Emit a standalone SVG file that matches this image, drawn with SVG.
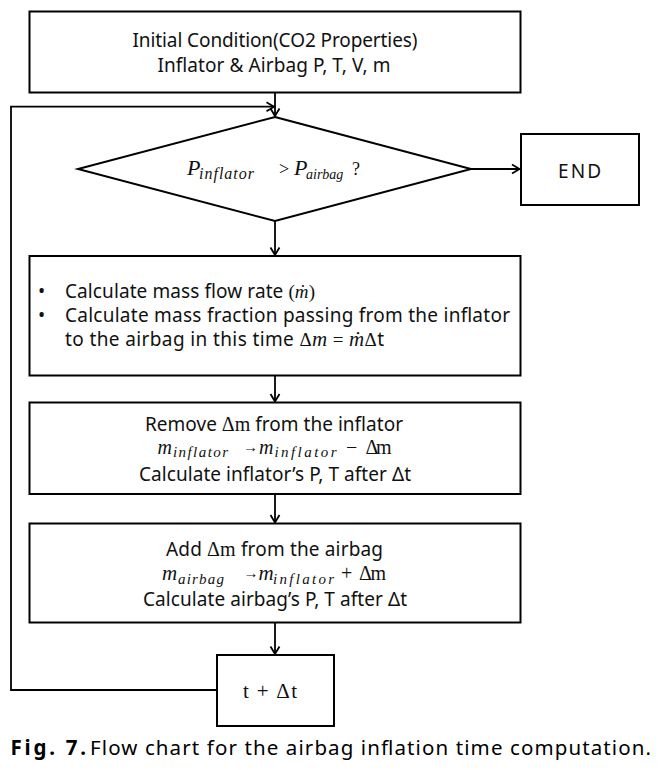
<svg xmlns="http://www.w3.org/2000/svg" width="659" height="770" viewBox="0 0 659 770">
<defs>
<style>
.box{fill:#fff;stroke:#000;stroke-width:2}
.con{fill:none;stroke:#000;stroke-width:1.8}
.t{font-family:"Noto Sans","Liberation Sans",Arial,sans-serif;font-size:19px;fill:#111}
.s{font-family:"Liberation Serif","DejaVu Serif",serif}
.i{font-family:"Liberation Serif","DejaVu Serif",serif;font-style:italic}
.cap{font-family:"Noto Sans","Liberation Sans",Arial,sans-serif;font-size:20.5px;fill:#000}
</style>
<marker id="arr" markerWidth="10" markerHeight="12" refX="8" refY="5" orient="auto" markerUnits="userSpaceOnUse" overflow="visible">
<path d="M0.5,0.5 L8,5 L0.5,9.5" fill="none" stroke="#000" stroke-width="1.8"/>
</marker>
</defs>
<rect width="659" height="770" fill="#fff"/>

<g id="connectors">
<path class="con" d="M275,92.5 V116" marker-end="url(#arr)"/>
<path class="con" d="M217,690 H11 V106.7 H274" marker-end="url(#arr)"/>
<path class="con" d="M471,169 H519.5" marker-end="url(#arr)"/>
<path class="con" d="M275,221 V255" marker-end="url(#arr)"/>
<path class="con" d="M275,375.5 V401.5" marker-end="url(#arr)"/>
<path class="con" d="M275,494 V522.5" marker-end="url(#arr)"/>
<path class="con" d="M275,622.5 V654" marker-end="url(#arr)"/>
</g>

<g id="start">
<rect class="box" x="29.5" y="11.5" width="491" height="81"/>
<text class="t" x="275" y="47.3" text-anchor="middle" textLength="285" lengthAdjust="spacing">Initial Condition(CO2 Properties)</text>
<text class="t" x="274" y="71.7" text-anchor="middle" textLength="233" lengthAdjust="spacing">Inflator &amp; Airbag P, T, V, m</text>
</g>

<g id="decision">
<polygon class="box" points="275,117 471,169 275,221 78,169"/>
<text class="t"><tspan class="i" x="187" y="175" font-size="22">P</tspan><tspan class="i" x="199" y="179" font-size="16" textLength="55">inflator</tspan><tspan class="s" x="279" y="175" font-size="18">&gt;</tspan><tspan class="i" x="294" y="175" font-size="22">P</tspan><tspan class="i" x="306" y="179" font-size="14">airbag</tspan><tspan class="s" x="352" y="175" font-size="18">?</tspan></text>
</g>

<g id="end">
<rect class="box" x="521" y="134" width="118" height="71"/>
<text class="t" x="558" y="178" font-size="22" textLength="43" lengthAdjust="spacing">END</text>
</g>

<g id="massflow">
<rect class="box" x="29.5" y="256" width="491" height="119.5"/>
<text class="t" x="38" y="298">•</text>
<text class="t" x="38" y="321.7">•</text>
<text class="t" x="65" y="298" textLength="250" lengthAdjust="spacing">Calculate mass flow rate <tspan class="s">(</tspan><tspan class="i">ṁ</tspan><tspan class="s">)</tspan></text>
<text class="t" x="65" y="321.7" textLength="445" lengthAdjust="spacing">Calculate mass fraction passing from the inflator</text>
<text class="t" x="65" y="345.7" textLength="319" lengthAdjust="spacing">to the airbag in this time <tspan class="s">Δ</tspan><tspan class="i" font-size="21">m</tspan><tspan class="s"> = </tspan><tspan class="i" font-size="21">ṁ</tspan><tspan class="s">Δ</tspan>t</text>
</g>

<g id="inflator">
<rect class="box" x="29.5" y="402.5" width="491" height="91.5"/>
<text class="t" x="274" y="430.7" text-anchor="middle" textLength="258" lengthAdjust="spacing">Remove <tspan class="s" font-size="20">Δm</tspan> from the inflator</text>
<text class="t"><tspan class="i" x="157.5" y="454" font-size="20">m</tspan><tspan class="i" x="173" y="457" font-size="15" textLength="55">inflator</tspan><tspan class="s" x="243" y="452" font-size="15">→</tspan><tspan class="i" x="259" y="454" font-size="20">m</tspan><tspan class="i" x="274.5" y="457" font-size="15" textLength="62">inflator</tspan><tspan class="s" x="346" y="454" font-size="20">−</tspan><tspan class="s" x="365.5" y="454" font-size="20" textLength="26">Δm</tspan></text>
<text class="t" x="275" y="480.7" text-anchor="middle" textLength="272" lengthAdjust="spacing">Calculate inflator’s P, T after Δt</text>
</g>

<g id="airbag">
<rect class="box" x="29.5" y="523.5" width="491" height="99"/>
<text class="t" x="274.5" y="556" text-anchor="middle" textLength="217" lengthAdjust="spacing">Add <tspan class="s" font-size="20">Δm</tspan> from the airbag</text>
<text class="t"><tspan class="i" x="162" y="580" font-size="21">m</tspan><tspan class="i" x="178" y="583.5" font-size="15" textLength="46">airbag</tspan><tspan class="s" x="243.5" y="578" font-size="15">→</tspan><tspan class="i" x="258.4" y="580" font-size="21">m</tspan><tspan class="i" x="273" y="583.5" font-size="15" textLength="61">inflator</tspan><tspan class="s" x="341" y="580" font-size="20">+</tspan><tspan class="s" x="359" y="580" font-size="20" textLength="27">Δm</tspan></text>
<text class="t" x="275" y="606" text-anchor="middle" textLength="264" lengthAdjust="spacing">Calculate airbag’s P, T after Δt</text>
</g>

<g id="step">
<rect class="box" x="217" y="655" width="117" height="71"/>
<text class="s" x="243" y="698" font-size="21" textLength="54" lengthAdjust="spacing" fill="#111">t + Δt</text>
</g>

<g id="caption">
<text class="cap"><tspan x="10.5" y="755" font-weight="bold" textLength="75.5" lengthAdjust="spacing">Fig. 7.</tspan><tspan x="90" y="755" textLength="561" lengthAdjust="spacing">Flow chart for the airbag inflation time computation.</tspan></text>
</g>
</svg>
